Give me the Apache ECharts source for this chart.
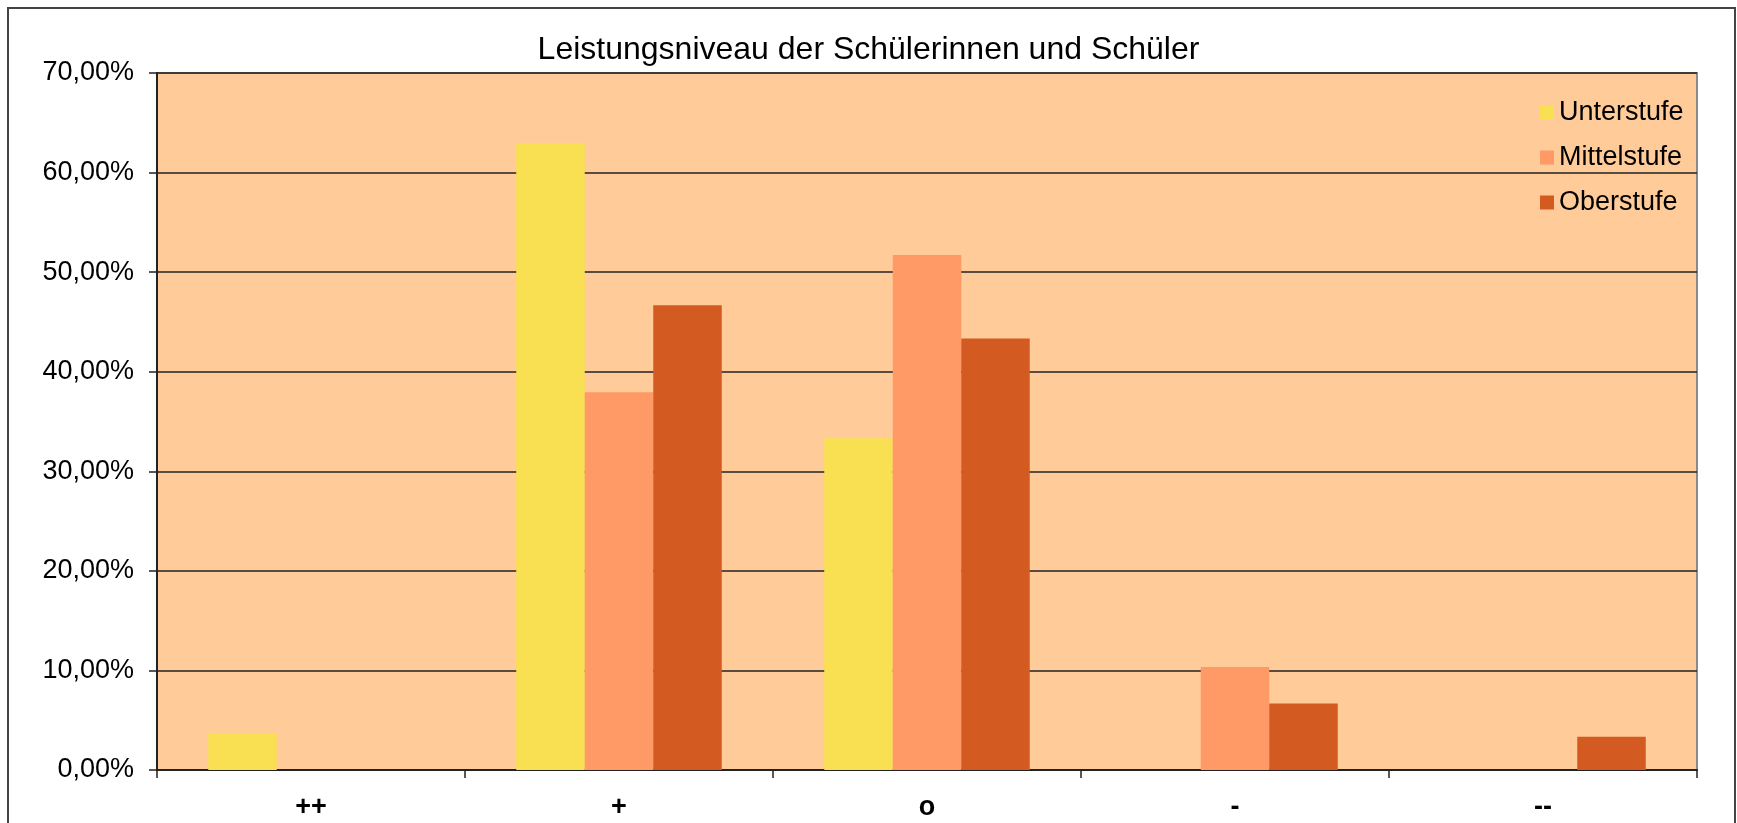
<!DOCTYPE html>
<html>
<head>
<meta charset="utf-8">
<script src="https://cdn.jsdelivr.net/npm/echarts@6/dist/echarts.min.js"></script>
<style>
    html, body { margin: 0; padding: 0; background: #fff; }
    #chart { width: 1737px; height: 823px; }
</style>
</head>
<body>
<div id="chart"></div>
<script>
// Kategorien (Leistungsniveau) und Anteile in Prozent
var categories = ['++', '+', 'o', '-', '--'];
var unterstufe = [3.70, 62.96, 33.33, 0, 0];
var mittelstufe = [0, 37.93, 51.72, 10.34, 0];
var oberstufe = [0, 46.67, 43.33, 6.67, 3.33];
var yTicks = { min: 0, max: 70, interval: 10 };

var ec = echarts.init(document.getElementById('chart'));

function fmtPercent(v) {
    return v.toFixed(2).replace('.', ',') + '%';
}

var option = {
    animation: false,
    backgroundColor: '#ffffff',
    textStyle: { fontFamily: 'Liberation Sans, Arial, sans-serif' },
    title: {
        text: 'Leistungsniveau der Schülerinnen und Schüler',
        left: 'center',
        top: 34,
        padding: 0,
        textStyle: {
            fontSize: 32,
            fontWeight: 'normal',
            color: '#000',
            fontFamily: 'Liberation Sans, Arial, sans-serif'
        }
    },
    legend: {
        orient: 'vertical',
        left: 1535,
        top: 94,
        itemWidth: 14,
        itemHeight: 14,
        itemGap: 18,
        icon: 'rect',
        textStyle: {
            fontSize: 27,
            lineHeight: 27,
            color: '#000',
            fontFamily: 'Liberation Sans, Arial, sans-serif'
        },
        data: ['Unterstufe', 'Mittelstufe', 'Oberstufe']
    },
    grid: {
        left: 157,
        right: 40,
        top: 73,
        bottom: 53,
        show: true,
        backgroundColor: '#FFCB99',
        borderColor: '#8a8a8a',
        borderWidth: 2
    },
    xAxis: {
        type: 'category',
        data: categories,
        axisLine: { show: true, lineStyle: { color: '#222', width: 2 } },
        axisTick: { show: true, length: 8, lineStyle: { color: '#222', width: 1.5 } },
        axisLabel: {
            margin: 24,
            fontSize: 27,
            fontWeight: 'bold',
            color: '#000'
        }
    },
    yAxis: {
        type: 'value',
        min: yTicks.min,
        max: yTicks.max,
        interval: yTicks.interval,
        axisLine: { show: true, lineStyle: { color: '#222', width: 2 } },
        axisTick: { show: true, length: 8, lineStyle: { color: '#222', width: 1.5 } },
        splitLine: { show: true, lineStyle: { color: '#222', width: 1.6 } },
        axisLabel: {
            margin: 23,
            fontSize: 27,
            color: '#000',
            formatter: fmtPercent
        }
    },
    graphic: [
        {
            type: 'rect',
            shape: { x: 8, y: 8, width: 1727, height: 840 },
            style: { fill: 'none', stroke: '#444', lineWidth: 2 },
            silent: true
        }
    ],
    series: [
        {
            name: 'Unterstufe',
            type: 'bar',
            barWidth: 68.5,
            barGap: '0%',
            itemStyle: { color: '#F9DF52' },
            data: unterstufe
        },
        {
            name: 'Mittelstufe',
            type: 'bar',
            barWidth: 68.5,
            barGap: '0%',
            itemStyle: { color: '#FF9966' },
            data: mittelstufe
        },
        {
            name: 'Oberstufe',
            type: 'bar',
            barWidth: 68.5,
            barGap: '0%',
            itemStyle: { color: '#D35A20' },
            data: oberstufe
        }
    ]
};
ec.setOption(option);
</script>
</body>
</html>
